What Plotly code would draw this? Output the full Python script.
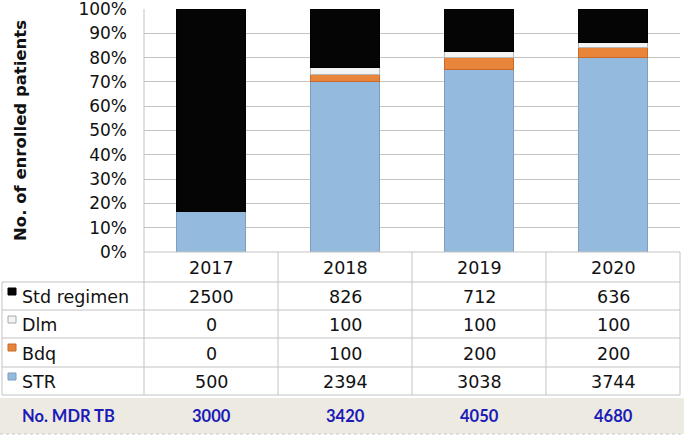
import plotly.graph_objects as go

# Data
years = ["2017", "2018", "2019", "2020"]
std_regimen = [2500, 826, 712, 636]
dlm = [0, 100, 100, 100]
bdq = [0, 100, 200, 200]
str_reg = [500, 2394, 3038, 3744]
mdr_tb = [3000, 3420, 4050, 4680]

W, H = 684, 436
FONT = "DejaVu Sans, Liberation Sans, Arial, sans-serif"


def px(x):
    return x / W


def py(y):
    return 1 - y / H


# table geometry (pixels)
COL_EDGES = [144, 278, 412, 546, 680]
PLOT_TOP, PLOT_BOTTOM = 9, 252
ROW_EDGES = [252, 282, 310, 338, 367, 395]
GRID = "#C3C3C3"

series = [
    ("STR", str_reg, "#94BADD", "#7C9FC0"),
    ("Bdq", bdq, "#E8853A", "#C9692A"),
    ("Dlm", dlm, "#F4F4F4", "#B8B8B8"),
    ("Std regimen", std_regimen, "#050505", "#000000"),
]

fig = go.Figure()
for name, vals, color, edge in series:
    fig.add_trace(go.Bar(
        x=years, y=vals, name=name,
        marker=dict(color=color, line=dict(color=edge, width=1)),
    ))

shapes = []
annotations = []


def line(x0, y0, x1, y1, **kw):
    style = dict(color=GRID, width=1)
    style.update(kw)
    shapes.append(dict(type="line", xref="paper", yref="paper",
                       x0=px(x0), x1=px(x1), y0=py(y0), y1=py(y1),
                       line=style))


# vertical lines of the table
for i, x in enumerate(COL_EDGES):
    line(x, PLOT_TOP if i == 0 else ROW_EDGES[0], x, ROW_EDGES[-1])
line(2, ROW_EDGES[1], 2, ROW_EDGES[-1])
# horizontal lines of the table
for j, y in enumerate(ROW_EDGES):
    line(144 if j == 0 else 2, y, 680, y)

# beige total row
shapes.append(dict(type="rect", xref="paper", yref="paper",
                   x0=px(0), x1=px(684), y0=py(398), y1=py(434),
                   fillcolor="#EDEAE1", line=dict(width=0), layer="below"))
line(0, 434, 684, 434, color="#C8C8C8", dash="dot")

centers = [(COL_EDGES[i] + COL_EDGES[i + 1]) / 2 for i in range(4)]


def cell(x, y, text, xanchor="center", font=None):
    f = dict(family=FONT, size=17.5, color="#111111")
    if font:
        f.update(font)
    annotations.append(dict(xref="paper", yref="paper", x=px(x), y=py(y),
                            xanchor=xanchor, yanchor="middle",
                            text=text, showarrow=False, font=f))


# header row (years)
for c, yr in zip(centers, years):
    cell(c, (ROW_EDGES[0] + ROW_EDGES[1]) / 2 + 1, yr)

table_rows = [
    ("Std regimen", std_regimen, "#050505", "#000000"),
    ("Dlm", dlm, "#F4F4F4", "#A8A8A8"),
    ("Bdq", bdq, "#E8853A", "#C9692A"),
    ("STR", str_reg, "#94BADD", "#7C9FC0"),
]
for r, (name, vals, color, edge) in enumerate(table_rows):
    ytop, ybot = ROW_EDGES[r + 1], ROW_EDGES[r + 2]
    yc = (ytop + ybot) / 2 + 1
    shapes.append(dict(type="rect", xref="paper", yref="paper",
                       x0=px(8), x1=px(16), y0=py(ytop + 6), y1=py(ytop + 13),
                       fillcolor=color, line=dict(color=edge, width=1)))
    cell(20, yc, name, xanchor="left")
    for c, v in zip(centers, vals):
        cell(c, yc, str(v))

# total row
blue = dict(family="Lato, Open Sans, sans-serif", size=16.5, color="#1B1BB8")
cell(68, 416, "<b>No. MDR TB</b>", font=blue)
for c, v in zip(centers, mdr_tb):
    cell(c, 416, f"<b>{v}</b>", font=blue)

# y axis title
annotations.append(dict(xref="paper", yref="paper", x=px(20), y=py(131),
                        xanchor="center", yanchor="middle",
                        text="<b>No. of enrolled patients</b>", textangle=-90,
                        showarrow=False,
                        font=dict(family=FONT, size=16.5, color="#111111")))

ticks = list(range(0, 101, 10))
fig.update_layout(
    width=W, height=H, autosize=False,
    margin=dict(l=0, r=0, t=0, b=0),
    paper_bgcolor="white", plot_bgcolor="white",
    barmode="stack", barnorm="percent", bargap=0.48,
    showlegend=False,
    xaxis=dict(domain=[px(144), px(680)], showticklabels=False,
               showgrid=False, zeroline=False, fixedrange=True,
               automargin=False),
    yaxis=dict(domain=[py(PLOT_BOTTOM), py(PLOT_TOP)], range=[0, 100],
               tickmode="array", tickvals=ticks,
               ticktext=[f"{t}%" for t in ticks],
               showgrid=True, gridcolor=GRID, gridwidth=1, zeroline=False,
               automargin=False,
               ticklabelstandoff=16, ticklabeloverflow="allow",
               tickfont=dict(family=FONT, size=17, color="#111111")),
    shapes=shapes,
    annotations=annotations,
    font=dict(family=FONT),
)

fig.write_html("out.html", config={"displayModeBar": False},
               post_script="document.body.style.margin='0';"
                           "document.body.style.overflow='hidden';")
